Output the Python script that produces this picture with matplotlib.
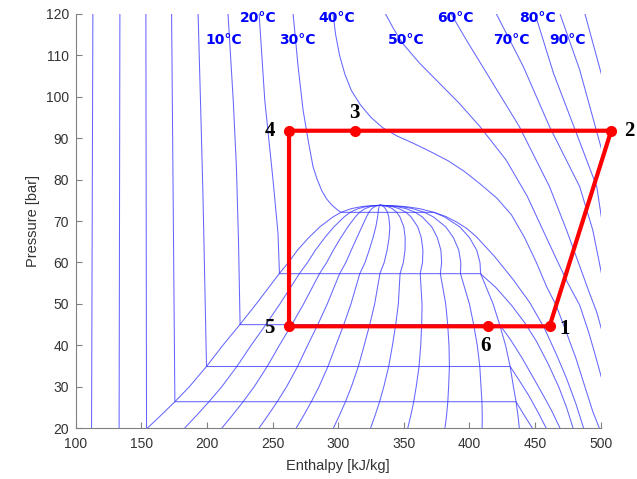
import numpy as np
import matplotlib
matplotlib.use("Agg")
import matplotlib.pyplot as plt

# ===== Data (enthalpy kJ/kg, pressure bar) =====

# saturation dome
sat_p = [20, 23, 26.4, 30, 34.9, 40, 45, 50, 55, 57.3, 60, 63, 66, 68.6, 71, 72.1, 73, 73.5,
         73.7, 73.8]
sat_h_liq = [154.5, 164.5, 175.5, 186.5, 199.6, 212, 225, 237.5, 249.5, 255, 262, 269, 277.5,
             286, 296, 302, 310, 318, 325, 332]
sat_h_vap = [438, 437, 435.5, 433.5, 431, 427.5, 423, 418, 411.5, 408.5, 408, 405.5, 400,
             392.6, 381, 373, 362, 351, 341, 332]
qualities = [0.1, 0.2, 0.3, 0.4, 0.5, 0.6, 0.7, 0.8, 0.9]

# isotherms
iso_m40_h = [113, 112]
iso_m40_p = [120, 20]
iso_m30_h = [133.6, 133]
iso_m30_p = [120, 20]
iso_m20_h = [153.4, 153.9]
iso_m20_p = [120, 20]
iso_m10_h = [173, 175.5, 435.5, 441, 448]
iso_m10_p = [120, 26.4, 26.4, 23.5, 20]
iso_0_h = [193.2, 195.7, 197, 199.6, 431, 438, 445, 452, 458.5]
iso_0_p = [120, 91, 75, 34.9, 34.9, 31.5, 28, 24, 20]
iso_10_h = [216, 220, 222.4, 224, 225.2, 423, 431, 440, 449, 457, 463, 469]
iso_10_p = [120, 99, 83, 65, 45, 45, 41.5, 37, 32, 27.5, 24, 20]
iso_20_h = [239.7, 244, 250.3, 254.1, 255.2, 408.3, 420, 432, 442, 451, 460, 468, 474, 479]
iso_20_p = [120, 99.2, 79.9, 67, 57.3, 57.3, 54, 49.7, 45.5, 41, 35.5, 30, 25, 20]
iso_30_h = [265.6, 269.4, 273.2, 277, 280.8, 284, 287.5, 291, 295, 299, 302, 373, 382, 390,
            398, 405, 419, 433, 446, 457, 466, 474, 481, 487]
iso_30_p = [120, 107.3, 96.8, 89.6, 83.1, 80, 77.3, 75.4, 73.9, 72.8, 72.1, 72.1, 71.1, 69.8,
            68.2, 66.3, 61.5, 56, 50.3, 44.2, 38, 32, 26, 20]
iso_40_h = [296, 298, 301, 305, 310, 317, 325, 334, 345, 357, 370, 384, 396, 408, 421, 432,
            442, 451, 459, 466, 474, 481, 488, 494, 499]
iso_40_p = [120, 115, 110, 105.5, 101.5, 98, 95, 92.5, 90.5, 88.8, 86.8, 84.5, 82, 79, 75.5,
            71.5, 66, 60, 54, 49.7, 43, 37, 30, 24, 20]
iso_50_h = [336, 342, 349, 362, 377, 392, 408, 428, 444, 456, 466, 475, 484, 491, 496, 500.5]
iso_50_p = [120, 116.5, 112.9, 108.1, 103.3, 98.5, 92.8, 84.7, 76, 67.8, 61, 55, 49.7, 43,
            37.5, 32.3]
iso_60_h = [386, 398, 410, 438, 461, 474, 483, 491, 497, 500.5]
iso_60_p = [120, 113.5, 107.3, 92.8, 78.3, 67.8, 60, 53, 48, 44]
iso_70_h = [420.5, 441, 461, 484, 494, 500.5]
iso_70_p = [120, 107.3, 92.8, 78.3, 67.8, 57.5]
iso_80_h = [450, 464, 481.5, 497, 500.5]
iso_80_p = [120, 105.7, 91.2, 78.3, 71]
iso_90_h = [469, 484, 500.5]
iso_90_p = [120, 106.5, 87.5]
iso_100_h = [488, 500.5]
iso_100_p = [120, 105.5]

isotherms = [
    (iso_m40_h, iso_m40_p), (iso_m30_h, iso_m30_p), (iso_m20_h, iso_m20_p),
    (iso_m10_h, iso_m10_p), (iso_0_h, iso_0_p), (iso_10_h, iso_10_p),
    (iso_20_h, iso_20_p), (iso_30_h, iso_30_p), (iso_40_h, iso_40_p),
    (iso_50_h, iso_50_p), (iso_60_h, iso_60_p), (iso_70_h, iso_70_p),
    (iso_80_h, iso_80_p), (iso_90_h, iso_90_p), (iso_100_h, iso_100_p),
]

# temperature labels (text, h, p)
temp_labels = ["10°C", "20°C", "30°C", "40°C", "50°C", "60°C", "70°C", "80°C", "90°C"]
temp_label_h = [212.8, 238.7, 269.2, 298.9, 351.5, 389.5, 432.2, 452, 474.9]
temp_label_p = [113.7, 119.0, 113.7, 119.0, 113.7, 119.0, 113.7, 119.0, 113.7]

# refrigeration cycle 1-2-3-4-5-6-1
cycle_names = ["1", "2", "3", "4", "5", "6"]
cycle_h = [461, 508, 312.6, 262.5, 262.5, 414]
cycle_p = [44.6, 91.8, 91.8, 91.8, 44.6, 44.6]
# label offsets in points (dx, dy)
label_offsets = [(11, -2), (13, 0), (0, 13), (-14, 0), (-14, -1), (-2, -14)]

# ===== Plot =====

fig = plt.figure(figsize=(6.37, 4.79), dpi=100)
ax = fig.add_axes([0.119, 0.106, 0.824, 0.865])

line_kw = dict(color=(0.2, 0.2, 1.0), lw=0.75, alpha=0.75)

for h, p in isotherms:
    ax.plot(h, p, **line_kw)

ax.plot(sat_h_liq, sat_p, **line_kw)
ax.plot(sat_h_vap, sat_p, **line_kw)
liq = np.array(sat_h_liq)
vap = np.array(sat_h_vap)
for q in qualities:
    ax.plot(liq + q * (vap - liq), sat_p, **line_kw)

for txt, h, p in zip(temp_labels, temp_label_h, temp_label_p):
    ax.text(h, p, txt, color="blue", fontsize=10, fontweight="bold",
            ha="center", va="center", family="DejaVu Sans", clip_on=False)

cyc_h = cycle_h + [cycle_h[0]]
cyc_p = cycle_p + [cycle_p[0]]
ax.plot(cyc_h, cyc_p, color="red", lw=3, solid_joinstyle="miter", clip_on=False, zorder=5)
ax.plot(cycle_h, cycle_p, "o", color="red", ms=7, clip_on=False, zorder=6)
for name, h, p, off in zip(cycle_names, cycle_h, cycle_p, label_offsets):
    ax.annotate(name, (h, p), xytext=off, textcoords="offset points",
                ha="center", va="center", fontsize=15, fontweight="bold",
                family="Liberation Serif", color="black", annotation_clip=False)

ax.set_xlim(100, 500)
ax.set_ylim(20, 120)
ax.set_xticks(np.arange(100, 501, 50))
ax.set_yticks(np.arange(20, 121, 10))
for s in ["top", "right"]:
    ax.spines[s].set_visible(False)
for s in ["left", "bottom"]:
    ax.spines[s].set_color("#808080")
ax.tick_params(direction="in", length=4, color="#808080", labelcolor="#333333",
               labelsize=10)
ax.tick_params(axis="x", pad=6)
ax.tick_params(axis="y", pad=5)
for lab in ax.get_xticklabels() + ax.get_yticklabels():
    lab.set_family("Liberation Sans")
ax.set_xlabel("Enthalpy [kJ/kg]", fontsize=10.5, color="#333333", family="Liberation Sans",
              labelpad=6)
ax.set_ylabel("Pressure [bar]", fontsize=10.5, color="#333333", family="Liberation Sans")

fig.savefig("out.png", dpi=100)
